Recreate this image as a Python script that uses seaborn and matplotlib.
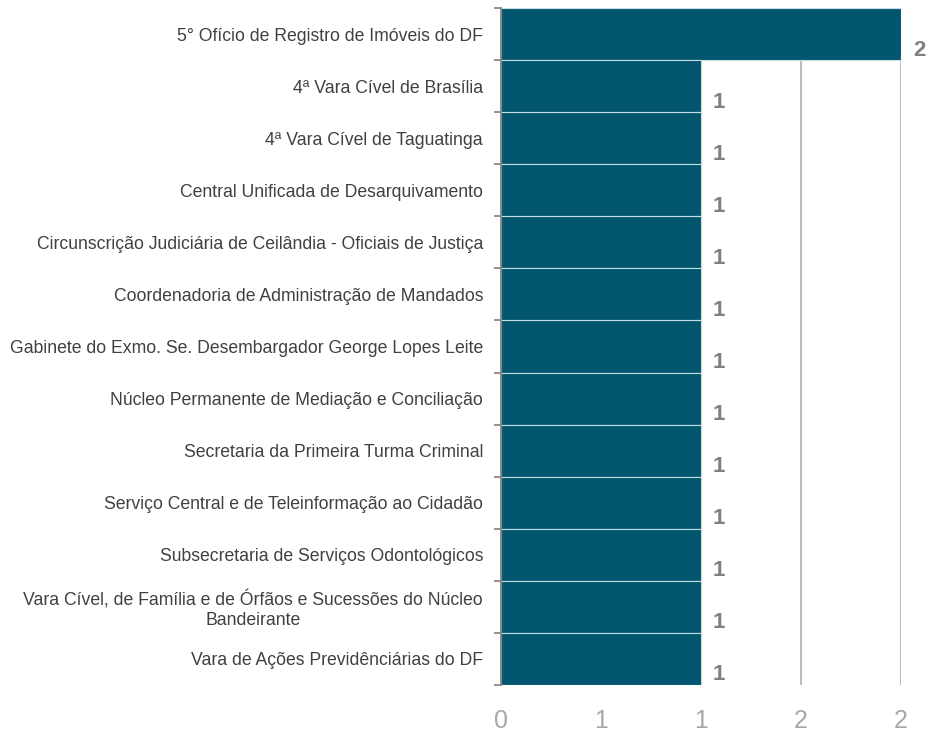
import pandas as pd
import matplotlib.pyplot as plt
import seaborn as sns

# --- données ---
unidades = [
    "5° Ofício de Registro de Imóveis do DF",
    "4ª Vara Cível de Brasília",
    "4ª Vara Cível de Taguatinga",
    "Central Unificada de Desarquivamento",
    "Circunscrição Judiciária de Ceilândia - Oficiais de Justiça",
    "Coordenadoria de Administração de Mandados",
    "Gabinete do Exmo. Se. Desembargador George Lopes Leite",
    "Núcleo Permanente de Mediação e Conciliação",
    "Secretaria da Primeira Turma Criminal",
    "Serviço Central e de Teleinformação ao Cidadão",
    "Subsecretaria de Serviços Odontológicos",
    "Vara Cível, de Família e de Órfãos e Sucessões do Núcleo\nBandeirante",
    "Vara de Ações Previdênciárias do DF",
]
quantidades = [2, 1, 1, 1, 1, 1, 1, 1, 1, 1, 1, 1, 1]
x_ticks = [0, 0.5, 1, 1.5, 2]
x_tick_labels = ["0", "1", "1", "2", "2"]

df = pd.DataFrame({"unidade": unidades, "qtd": quantidades})

sns.set_style("white")
plt.rcParams["font.family"] = ["Liberation Sans", "DejaVu Sans"]

fig = plt.figure(figsize=(9.28, 7.31), dpi=100)
ax = fig.add_axes([0.540, 0.063, 0.431, 0.926])

ax.set_axisbelow(True)
ax.xaxis.grid(True, color="#b4b4b4", linewidth=1.3)

sns.barplot(data=df, x="qtd", y="unidade", orient="h", width=1.0,
            color="#02566f", saturation=1, edgecolor="#c6dde4", linewidth=0.8, ax=ax)

ax.set_xlim(0, 2)
ax.set_ylim(len(unidades) - 0.5, -0.5)
ax.set_xticks(x_ticks)
ax.set_xticklabels(x_tick_labels, fontsize=18, color="#a6a6a6")
ax.tick_params(axis="x", length=0, pad=17)

# ticks en bordure de barres
ax.set_yticks([i - 0.5 for i in range(len(unidades) + 1)], minor=True)
ax.tick_params(axis="y", which="major", left=False, length=0, pad=13)
ax.tick_params(axis="y", which="minor", left=True, length=5, color="#808080", width=1.2)
ax.set_yticklabels(unidades, fontsize=12.7, color="#404040")
for lab in ax.get_yticklabels():
    lab.set_multialignment("center")

for s in ["top", "right", "bottom"]:
    ax.spines[s].set_visible(False)
ax.spines["left"].set_color("#808080")
ax.spines["left"].set_linewidth(1.3)

ax.set_xlabel("")
ax.set_ylabel("")

# étiquettes de valeurs
for i, v in enumerate(quantidades):
    ax.annotate(str(v), xy=(v, i), xytext=(18, -16), textcoords="offset pixels",
                ha="center", va="center", fontsize=16, fontweight="bold", color="#808080",
                annotation_clip=False)

plt.savefig("out.png", dpi=100)
plt.close()
